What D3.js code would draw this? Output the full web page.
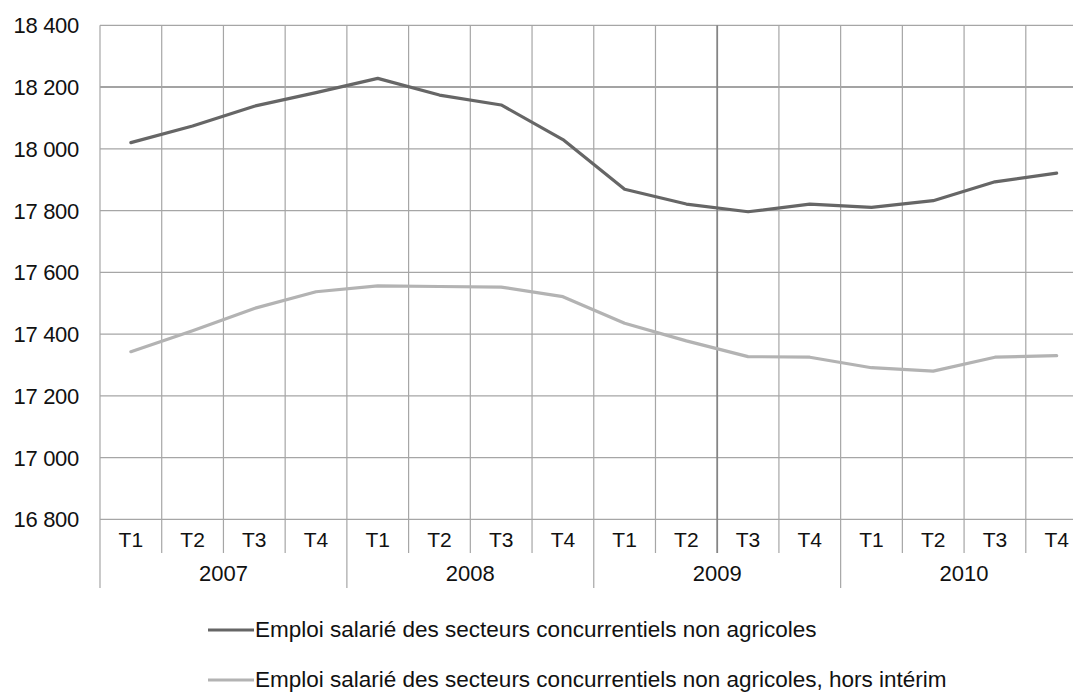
<!DOCTYPE html>
<html>
<head>
<meta charset="utf-8">
<script src="https://cdn.jsdelivr.net/npm/d3@7"></script>
<style>
  body { margin: 0; background: #fff; }
  svg { display: block; font-family: "Liberation Sans", Arial, sans-serif; }
</style>
</head>
<body>
<div id="chart"></div>
<script>
// quarters and years
const years = ["2007", "2008", "2009", "2010"];
const quarters = ["T1", "T2", "T3", "T4"];

// thousands of jobs
const emploi = [18020, 18074, 18138, 18182, 18228, 18174, 18142, 18030,
                17869, 17821, 17796, 17821, 17810, 17832, 17893, 17921];
const emploiHorsInterim = [17343, 17411, 17483, 17537, 17556, 17554, 17552, 17521,
                           17435, 17378, 17327, 17325, 17291, 17280, 17325, 17330];

const yTicks = [16800, 17000, 17200, 17400, 17600, 17800, 18000, 18200, 18400];

const seriesNames = ["Emploi salarié des secteurs concurrentiels non agricoles",
                     "Emploi salarié des secteurs concurrentiels non agricoles, hors intérim"];
const seriesColors = ["#666666", "#b3b3b3"];

var width = 1073, height = 693;
var margin = {top: 25.3, left: 100};
var plotBottom = 519.3;
var step = 61.72;

const cats = [];
years.forEach(y => quarters.forEach(q => cats.push(y + "-" + q)));

let x = d3.scaleBand()
    .domain(cats)
    .range([margin.left, margin.left + step * cats.length]);

let y = d3.scaleLinear()
    .domain([16800, 18400])
    .range([plotBottom, margin.top]);

var svg = d3.select("#chart")
    .append("svg")
    .attr("width", width)
    .attr("height", height);

// horizontal grid
svg.selectAll(".hgrid")
    .data(yTicks).enter()
    .append("line")
    .attr("x1", margin.left).attr("x2", width)
    .attr("y1", d => y(d)).attr("y2", d => y(d))
    .style("stroke", d => d === 18200 ? "#858585" : "#a6a6a6")
    .style("stroke-width", d => d === 18200 ? 1.6 : 1.2);

// vertical grid, quarter separators longer at year boundaries
svg.selectAll(".vgrid")
    .data(d3.range(cats.length + 1)).enter()
    .append("line")
    .attr("x1", i => margin.left + step * i).attr("x2", i => margin.left + step * i)
    .attr("y1", margin.top)
    .attr("y2", i => i % 4 === 0 ? 588 : 553)
    .style("stroke", i => i === 10 ? "#858585" : "#a6a6a6")
    .style("stroke-width", i => i === 10 ? 1.8 : 1.2);

// y labels
svg.selectAll(".ylab")
    .data(yTicks).enter()
    .append("text")
    .attr("x", 79)
    .attr("y", d => y(d) + 8)
    .attr("text-anchor", "end")
    .style("font-size", "22px")
    .style("letter-spacing", "-0.3px")
    .style("fill", "#111")
    .text(d => d3.format(",")(d).replace(",", " "));

// quarter labels
svg.selectAll(".qlab")
    .data(cats).enter()
    .append("text")
    .attr("x", d => x(d) + x.bandwidth() / 2)
    .attr("y", 547)
    .attr("text-anchor", "middle")
    .style("font-size", "21px")
    .style("fill", "#111")
    .text(d => d.split("-")[1]);

// year labels
svg.selectAll(".ylab2")
    .data(years).enter()
    .append("text")
    .attr("x", d => x(d + "-T1") + step * 2)
    .attr("y", 581)
    .attr("text-anchor", "middle")
    .style("font-size", "22px")
    .style("fill", "#111")
    .text(d => d);

let line = d3.line()
    .x((d, i) => x(cats[i]) + x.bandwidth() / 2)
    .y(d => y(d));

[emploi, emploiHorsInterim].forEach(function (s, k) {
    svg.append("path")
        .datum(s)
        .attr("d", line)
        .style("fill", "none")
        .style("stroke", seriesColors[k])
        .style("stroke-width", 3.2)
        .style("stroke-linejoin", "round")
        .style("stroke-linecap", "round");
});

// legend
let legend = svg.selectAll(".legend")
    .data(seriesNames).enter()
    .append("g")
    .attr("transform", (d, i) => "translate(208," + (630 + 50 * i) + ")");

legend.append("line")
    .attr("x1", 0).attr("x2", 46)
    .style("stroke", (d, i) => seriesColors[i])
    .style("stroke-width", 3.2);

legend.append("text")
    .attr("x", 47)
    .attr("y", 7)
    .style("font-size", "22.5px")
    .style("fill", "#111")
    .text(d => d);
</script>
</body>
</html>
